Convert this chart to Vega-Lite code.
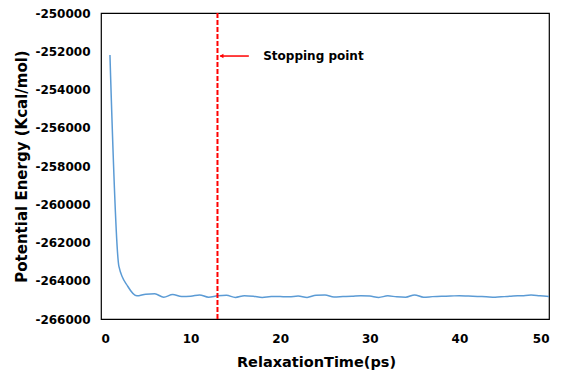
{
  "$schema": "https://vega.github.io/schema/vega-lite/v6.json",
  "width": 448,
  "height": 306,
  "autosize": {"type": "none"},
  "padding": {"left": 101, "top": 13, "right": 17, "bottom": 57},
  "background": "white",
  "config": {
    "view": {"stroke": "#000000", "strokeWidth": 1.2},
    "font": "DejaVu Sans",
    "axis": {
      "grid": false,
      "domain": false,
      "ticks": false,
      "labelOverlap": false,
      "labelFont": "DejaVu Sans",
      "labelFontWeight": "bold",
      "labelFontSize": 12,
      "labelColor": "#000000",
      "titleFont": "DejaVu Sans",
      "titleFontWeight": "bold",
      "titleFontSize": 15,
      "titleColor": "#000000"
    }
  },
  "datasets": {
    "energy": [
      {"t": 1, "E": -252200},
      {"t": 2, "E": -263250},
      {"t": 3, "E": -264300},
      {"t": 4, "E": -264790},
      {"t": 5, "E": -264700},
      {"t": 6, "E": -264680},
      {"t": 7, "E": -264860},
      {"t": 8, "E": -264720},
      {"t": 9, "E": -264820},
      {"t": 10, "E": -264810},
      {"t": 11, "E": -264740},
      {"t": 12, "E": -264860},
      {"t": 13, "E": -264790},
      {"t": 14, "E": -264760},
      {"t": 15, "E": -264870},
      {"t": 16, "E": -264780},
      {"t": 17, "E": -264810},
      {"t": 18, "E": -264870},
      {"t": 19, "E": -264820},
      {"t": 20, "E": -264830},
      {"t": 21, "E": -264840},
      {"t": 22, "E": -264800},
      {"t": 23, "E": -264870},
      {"t": 24, "E": -264760},
      {"t": 25, "E": -264750},
      {"t": 26, "E": -264850},
      {"t": 27, "E": -264830},
      {"t": 28, "E": -264810},
      {"t": 29, "E": -264780},
      {"t": 30, "E": -264800},
      {"t": 31, "E": -264870},
      {"t": 32, "E": -264790},
      {"t": 33, "E": -264840},
      {"t": 34, "E": -264860},
      {"t": 35, "E": -264740},
      {"t": 36, "E": -264860},
      {"t": 37, "E": -264830},
      {"t": 38, "E": -264810},
      {"t": 39, "E": -264800},
      {"t": 40, "E": -264780},
      {"t": 41, "E": -264800},
      {"t": 42, "E": -264820},
      {"t": 43, "E": -264840},
      {"t": 44, "E": -264860},
      {"t": 45, "E": -264830},
      {"t": 46, "E": -264800},
      {"t": 47, "E": -264780},
      {"t": 48, "E": -264750},
      {"t": 49, "E": -264790},
      {"t": 50, "E": -264820}
    ],
    "stop": [{"t": 13}],
    "arrow": [{"t": 16.5, "t2": 13.3, "E": -252250, "label": "Stopping point", "tl": 18.1, "th": 13.45}]
  },
  "layer": [
    {
      "data": {"name": "energy"},
      "mark": {"type": "line", "color": "#5B9BD5", "strokeWidth": 1.5, "interpolate": "monotone", "clip": true},
      "encoding": {
        "x": {
          "field": "t", "type": "quantitative",
          "scale": {"domain": [0, 50], "nice": false},
          "axis": {"values": [0, 10, 20, 30, 40, 50], "tickCount": 20, "labelPadding": 14, "title": "RelaxationTime(ps)", "titlePadding": 11, "titleFontSize": 14.5, "titleX": 215}
        },
        "y": {
          "field": "E", "type": "quantitative",
          "scale": {"domain": [-266000, -250000], "nice": false, "zero": false},
          "axis": {"values": [-266000, -264000, -262000, -260000, -258000, -256000, -254000, -252000, -250000], "tickCount": 20, "labelExpr": "'' + datum.value", "labelPadding": 11, "title": "Potential Energy (Kcal/mol)", "titlePadding": 5}
        }
      }
    },
    {
      "data": {"name": "stop"},
      "mark": {"type": "rule", "color": "#FF0000", "strokeWidth": 2, "strokeDash": [5, 2]},
      "encoding": {"x": {"field": "t", "type": "quantitative"}}
    },
    {
      "data": {"name": "arrow"},
      "mark": {"type": "rule", "color": "#FF0000", "strokeWidth": 1.5},
      "encoding": {
        "x": {"field": "t", "type": "quantitative"},
        "x2": {"field": "t2"},
        "y": {"field": "E", "type": "quantitative"}
      }
    },
    {
      "data": {"name": "arrow"},
      "mark": {"type": "point", "shape": "triangle-left", "filled": true, "color": "#FF0000", "size": 20, "opacity": 1},
      "encoding": {
        "x": {"field": "th", "type": "quantitative"},
        "y": {"field": "E", "type": "quantitative"}
      }
    },
    {
      "data": {"name": "arrow"},
      "mark": {"type": "text", "align": "left", "baseline": "middle", "font": "DejaVu Sans", "fontWeight": "bold", "fontSize": 12, "color": "#000000"},
      "encoding": {
        "x": {"field": "tl", "type": "quantitative"},
        "y": {"field": "E", "type": "quantitative"},
        "text": {"field": "label"}
      }
    }
  ]
}
